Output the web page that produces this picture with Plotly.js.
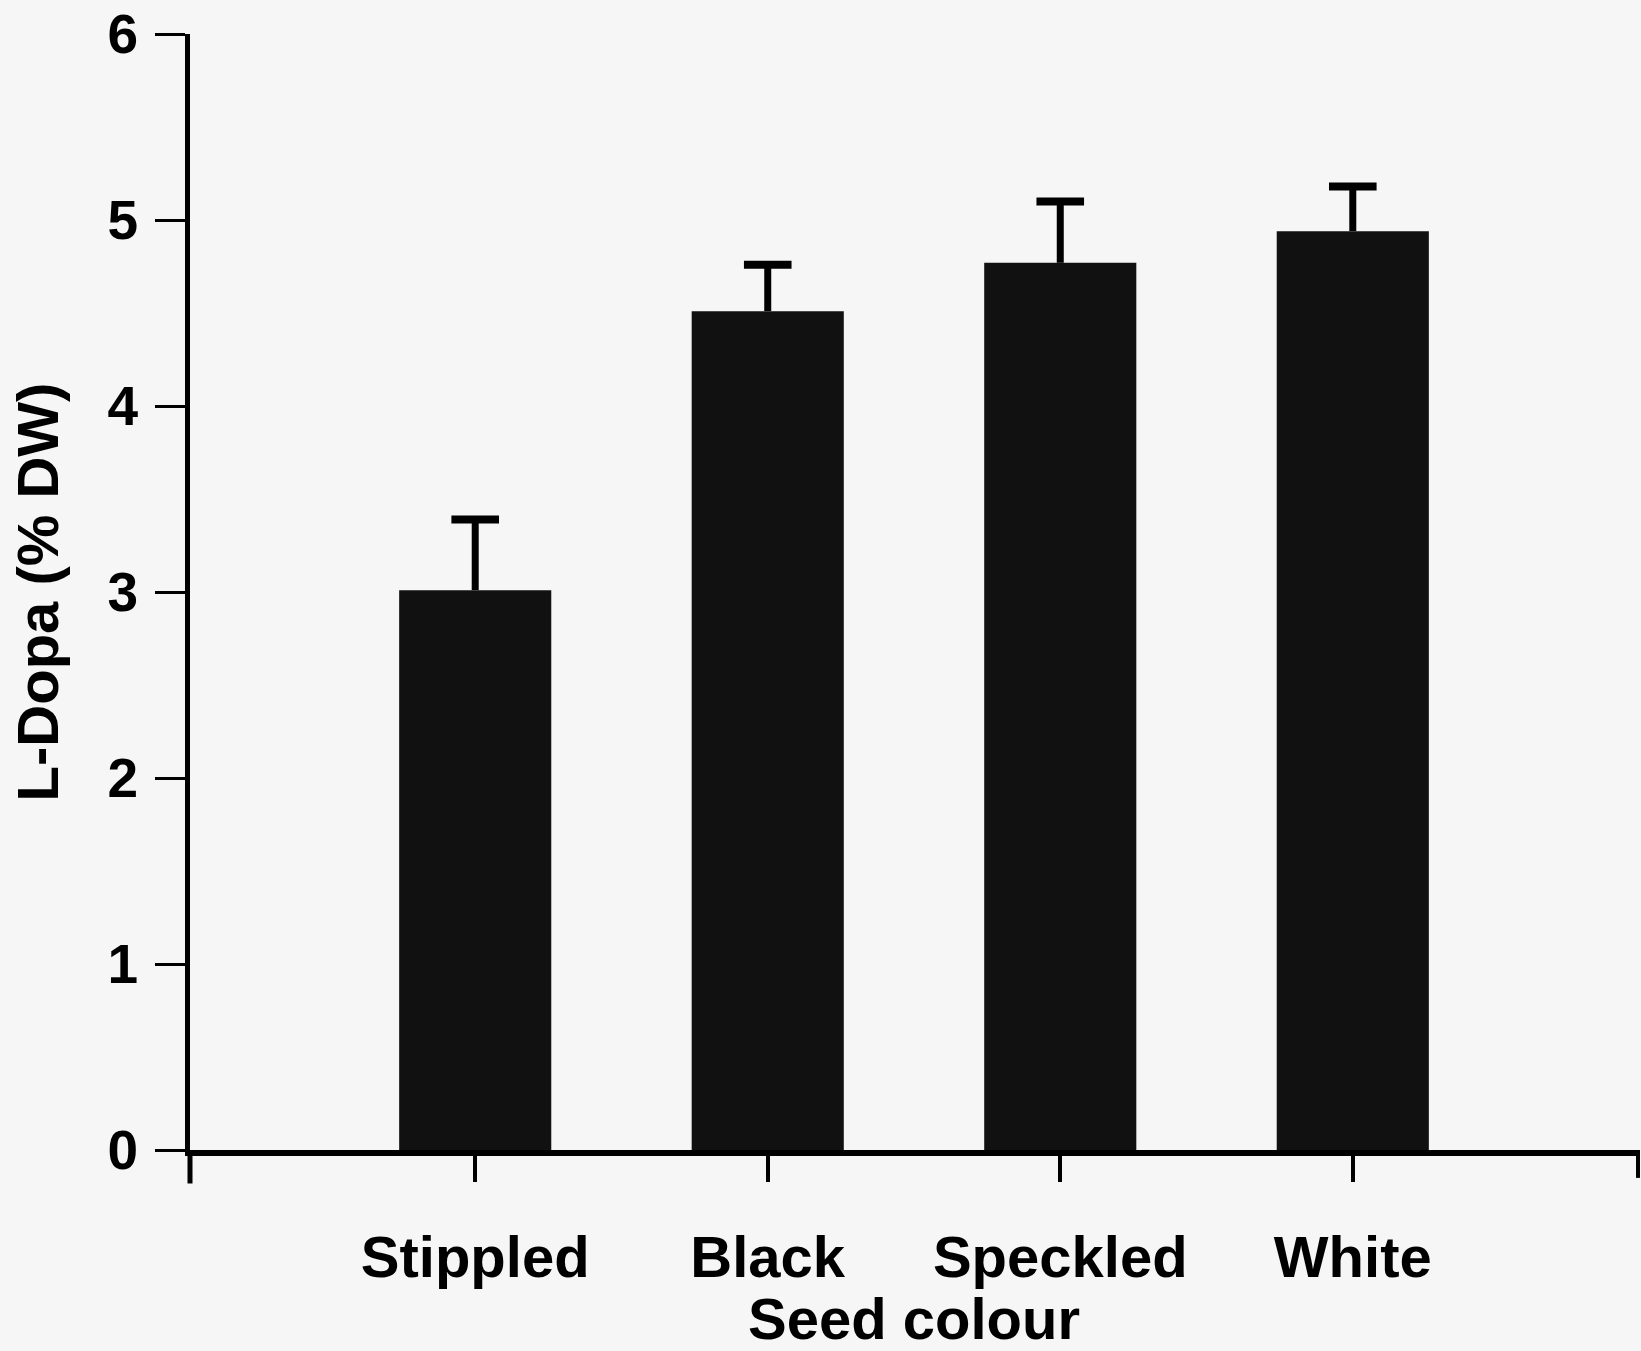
<!DOCTYPE html>
<html>
<head>
<meta charset="utf-8">
<script src="https://cdn.plot.ly/plotly-3.0.1.min.js"></script>
<style>
  html, body { margin: 0; padding: 0; background: #f6f6f6; }
  #chart { width: 1641px; height: 1351px; }
</style>
</head>
<body>
<div id="chart"></div>
<script>
// Data
const categories = ['Stippled', 'Black', 'Speckled', 'White'];
const ldopa = [3.01, 4.51, 4.77, 4.94];       // L-Dopa (% DW)
const errUp = [0.38, 0.25, 0.33, 0.24];       // upper error bars
const yTickVals = [0, 1, 2, 3, 4, 5, 6];
const xTitle = 'Seed colour';
const yTitle = 'L-Dopa (% DW)';

const FONT = '"Liberation Sans", Arial, Helvetica, sans-serif';

const bars = {
  type: 'bar',
  x: categories,
  y: ldopa,
  width: 0.52,
  marker: { color: '#111111', line: { width: 0 } },
  error_y: {
    type: 'data',
    symmetric: false,
    array: errUp,
    arrayminus: errUp.map(() => 0),
    color: '#000000',
    thickness: 7,
    width: 0
  },
  hoverinfo: 'x+y'
};

// caps only on the upper end of each error bar
const caps = {
  type: 'scatter',
  mode: 'markers',
  x: categories,
  y: ldopa.map((v, i) => v + errUp[i]),
  marker: { symbol: 'line-ew', size: 34, color: '#000', line: { color: '#000', width: 8 } },
  hoverinfo: 'skip'
};

const layout = {
  width: 1641,
  height: 1351,
  margin: { l: 190, r: 3, t: 34, b: 201 },
  paper_bgcolor: '#f6f6f6',
  plot_bgcolor: '#f6f6f6',
  showlegend: false,
  xaxis: {
    type: 'category',
    range: [-0.975, 3.975],
    showline: true,
    linecolor: '#000',
    linewidth: 6,
    ticks: 'outside',
    ticklen: 26,
    tickwidth: 4,
    tickcolor: '#000',
    ticklabelstandoff: 25,
    tickfont: { family: FONT, size: 58, weight: 700, color: '#000' },
    showgrid: false,
    zeroline: false,
    title: { text: xTitle, font: { family: FONT, size: 58, weight: 700, color: '#000' }, standoff: 18 }
  },
  yaxis: {
    range: [0, 6],
    tickvals: yTickVals,
    showline: true,
    linecolor: '#000',
    linewidth: 5,
    ticks: 'outside',
    ticklen: 30,
    tickwidth: 3,
    tickcolor: '#000',
    ticklabelstandoff: 6,
    tickfont: { family: FONT, size: 55, weight: 700, color: '#000' },
    showgrid: false,
    zeroline: false,
    title: { text: yTitle, font: { family: FONT, size: 58, weight: 700, color: '#000' }, standoff: 32 }
  },
  shapes: [
    { type: 'line', xref: 'paper', yref: 'paper', x0: 0, x1: 0, y0: 0, y1: -0.03,
      line: { color: '#000', width: 5 } },
    { type: 'line', xref: 'paper', yref: 'paper', x0: 1, x1: 1, y0: 0, y1: -0.025,
      line: { color: '#000', width: 4 } }
  ]
};

Plotly.newPlot('chart', [bars, caps], layout, { displayModeBar: false, staticPlot: true });
</script>
</body>
</html>
